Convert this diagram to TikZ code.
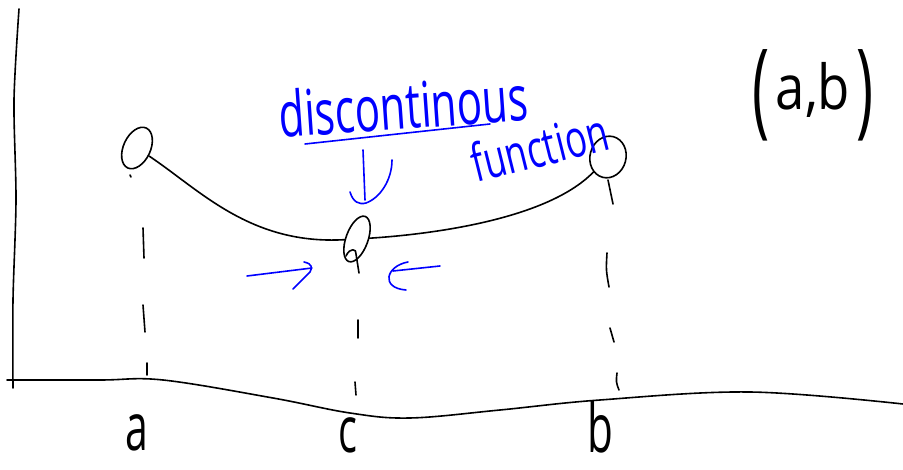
\documentclass[tikz,border=0pt]{standalone}
\usepackage{fontspec}
\setmainfont{Open Sans}
\usetikzlibrary{shapes.geometric}
\begin{document}
\begin{tikzpicture}[x=1pt,y=-1pt,
  ink/.style={line width=1.6pt, line cap=round, line join=round, black},
  bink/.style={line width=1.6pt, line cap=round, line join=round, blue},
  hole/.style={ellipse, draw, ink, inner sep=0pt},
  hand/.style={inner sep=0pt, anchor=base},
]
\useasboundingbox (0,0) rectangle (903,470);

% axes
\draw[ink] plot[smooth] coordinates {(19,9) (14,100) (16,200) (13,300) (13,388)};
\draw[ink] plot[smooth, tension=0.6] coordinates {(7,380) (100,380) (163,380) (273,398) (350,413) (410,418) (500,410) (600,400) (750,392) (903,404)};

% open points
\node[hole, minimum width=27pt, minimum height=44pt, rotate=-25] (L) at (137,148) {};
\node[hole, minimum width=22pt, minimum height=48pt, rotate=-20] (M) at (357,239) {};
\node[hole, minimum width=36pt, minimum height=42pt, rotate=-15] (R) at (608,157) {};

% function pieces
\draw[ink] (L) .. controls (200,190) and (250,245) .. (M);
\draw[ink] (M) .. controls (420,235) and (545,222) .. (R);

% small marks at points
\draw[ink] (130,175) -- (131,177);
\draw[ink] (346,256) .. controls (350,247) and (357,249) .. (356,254) -- (359,273);
\draw[ink] (608,180) -- (613,204);

% dashed guides
\draw[ink] (143,228) -- (144,258);
\draw[ink] (143,305) -- (145,332);
\draw[ink] (147,363) -- (147,375);
\draw[ink] (358,320) -- (358,338);
\draw[ink] (355,382) -- (356,395);
\draw[ink] (607,253) .. controls (606,270) .. (609,287);
\draw[ink] (610,328) -- (614,342);
\draw[ink] (617,373) .. controls (616,382) .. (619,390);

% axis labels
\node[hand] (la) at (137,450) {\scalebox{0.62}[1]{\fontsize{66}{66}\selectfont a}};
\node[hand] (lc) at (348,453) {\scalebox{0.62}[1]{\fontsize{64}{64}\selectfont c}};
\node[hand] (lb) at (600,453) {\scalebox{0.62}[1]{\fontsize{68}{68}\selectfont b}};

% interval
\node[hand] (ab) at (813,125) {{\fontsize{105}{105}\selectfont\scalebox{0.55}[1]{(}}\hspace{6pt}\raisebox{15pt}{\scalebox{0.85}[1]{\fontsize{62}{62}\selectfont a,b}}\hspace{6pt}{\fontsize{105}{105}\selectfont\scalebox{0.55}[1]{)}}};

% blue annotation
\node[hand, text=blue, rotate=4] (dis) at (405,129) {\scalebox{1}[1.5]{\fontsize{42}{42}\selectfont discontinous}};
\draw[bink] (305,144) -- (490,124);
\node[hand, text=blue, rotate=14] (fun) at (544,166) {\scalebox{1}[1.45]{\fontsize{36}{36}\selectfont function}};

% blue arrows
\draw[bink] (363,150) -- (365,200);
\draw[bink] (350,192) .. controls (353,202) and (359,205) .. (366,203) .. controls (380,198) and (392,180) .. (392,160);
\draw[bink] (247,276) -- (312,268);
\draw[bink] (304,262) .. controls (313,264) and (312,268) .. (310,272) -- (293,289);
\draw[bink] (393,271) -- (440,266);
\draw[bink] (408,262) .. controls (386,266) and (380,288) .. (406,290);
\end{tikzpicture}
\end{document}
